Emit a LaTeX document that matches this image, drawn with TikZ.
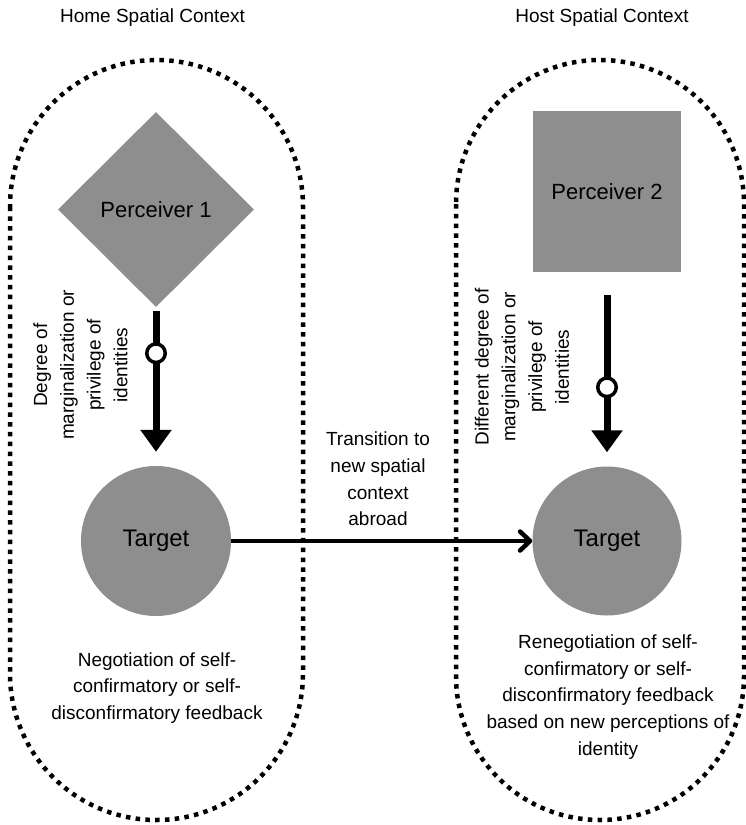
\documentclass[tikz,border=0pt]{standalone}
\usepackage{fontspec}
\setmainfont{Liberation Sans}
\usetikzlibrary{shapes.geometric,arrows.meta}
\definecolor{shapegray}{RGB}{142,142,142}
\begin{document}
\begin{tikzpicture}[x=1pt,y=-1pt,
  every node/.style={font=\fontsize{19pt}{26.7pt}\selectfont, inner sep=0pt},
  region/.style={line width=4.5pt, dash pattern=on 4.5pt off 5.3pt},
  shapebox/.style={fill=shapegray, font=\fontsize{22pt}{26pt}\selectfont},
  targetbox/.style={shapebox, circle, font=\fontsize{24pt}{28pt}\selectfont},
  lbl/.style={align=center},
  thickarrow/.style={line width=7pt, -{Triangle[width=30pt,length=22pt]}},
  ring/.style={circle, draw, fill=white, line width=3.5pt, minimum size=18.5pt},
  transarrow/.style={line width=4.5pt, -{Straight Barb[length=10pt,width=19pt,line cap=round,line join=round]}}
]
\useasboundingbox (0,0) rectangle (746,825);
\draw[region, rounded corners=146.5pt] (10,60) rectangle (303,820);
\draw[region, rounded corners=144pt] (456,60) rectangle (744,820);

\node (homet) at (152.5,18) {Home Spatial Context};
\node (hostt) at (602,18) {Host Spatial Context};

\node[shapebox, diamond, minimum width=196pt, minimum height=195pt] (p1) at (156,209.5) {Perceiver 1};
\node[shapebox, minimum width=148pt, minimum height=161pt] (p2) at (607,191.5) {Perceiver 2};
\node[targetbox, minimum size=150pt] (t1) at (156,541) {Target};
\node[targetbox, minimum size=149pt] (t2) at (607,541) {Target};

\draw[thickarrow, shorten <=3.5pt, shorten >=14pt] (p1.south) -- node[ring, pos=0.29] (r1) {} (t1.north);
\draw[thickarrow, shorten <=23pt, shorten >=14pt] (p2.south) -- node[ring, pos=0.593] (r2) {} (t2.north);
\draw[transarrow] (t1.east) -- (t2.west);

\node[lbl] (trans) at (378,479) {Transition to\\new spatial\\context\\abroad};
\node[lbl, rotate=90] (l1) at (80.5,365) {Degree of\\marginalization or\\privilege of\\identities};
\node[lbl, rotate=90] (l2) at (522,367) {Different degree of\\marginalization or\\privilege of\\identities};
\node[lbl] (n1) at (157,688) {Negotiation of self-\\confirmatory or self-\\disconfirmatory feedback};
\node[lbl] (n2) at (608,697) {Renegotiation of self-\\confirmatory or self-\\disconfirmatory feedback\\based on new perceptions of\\identity};
\end{tikzpicture}
\end{document}
